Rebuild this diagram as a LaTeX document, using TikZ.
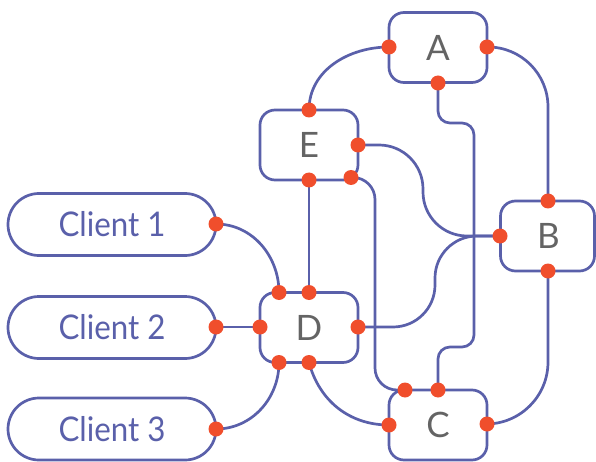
\documentclass[tikz,border=0pt]{standalone}
\usepackage{fontspec}
\setmainfont{Lato}
\definecolor{lineblue}{RGB}{90,96,170}
\definecolor{dotred}{RGB}{240,78,44}
\definecolor{lettergray}{RGB}{100,100,100}
\begin{document}
\begin{tikzpicture}[x=1pt,y=-1pt,
  box/.style={draw=lineblue,line width=2.7pt,rounded corners=15pt,minimum width=98pt,minimum height=70pt,inner sep=0pt,
    text=lettergray,font=\fontsize{35}{40}\selectfont},
  pill/.style={draw=lineblue,line width=2.7pt,rounded corners=31pt,minimum width=208pt,minimum height=62pt,inner sep=0pt,
    text=lineblue,font=\fontsize{34}{40}\selectfont},
  wire/.style={draw=lineblue,line width=2.7pt},
  dotnode/.style={circle,fill=dotred,inner sep=0pt,minimum size=15pt}]
\useasboundingbox (0,0) rectangle (596,462);
% boxes
\node[box] (A) at (438,47.5) {A};
\node[box] (E) at (309,145) {E};
\node[box,minimum width=94pt] (B) at (547.5,236) {\hspace*{2pt}B};
\node[box] (D) at (309,327.5) {D};
\node[box] (C) at (438,425) {C};
\node[pill] (c1) at (112,224.5) {\scalebox{0.92}[1]{Client 1}};
\node[pill] (c2) at (112,327.5) {\scalebox{0.92}[1]{Client 2}};
\node[pill] (c3) at (112,429) {\scalebox{0.92}[1]{Client 3}};
% ports
\coordinate (Aw) at (389,47);
\coordinate (Ae) at (487,47);
\coordinate (As) at (438,83);
\coordinate (En) at (309,110);
\coordinate (Ee) at (358,145);
\coordinate (Es) at (309,180);
\coordinate (Ese) at (351,177.5);
\coordinate (Bn) at (548,201);
\coordinate (Bw) at (500,236);
\coordinate (Bs) at (548,271);
\coordinate (Dnw) at (279,292.5);
\coordinate (Dn) at (309,292.5);
\coordinate (Dw) at (260,327);
\coordinate (De) at (358,327);
\coordinate (Dsw) at (279,362.5);
\coordinate (Ds) at (309,362.5);
\coordinate (Cnw) at (405,390);
\coordinate (Cn) at (438,390);
\coordinate (Cw) at (389,425);
\coordinate (Ce) at (487,424);
\coordinate (c1e) at (216,224);
\coordinate (c2e) at (216,327);
\coordinate (c3e) at (216,429);
% connectors
\draw[wire] (Aw) to[out=180,in=90] (En);
\draw[wire,rounded corners=60pt] (Ae) -| (Bn);
\draw[wire,rounded corners=12pt] (As) -- (438,123) -- (474,123) -- (474,347) -- (438,347) -- (Cn);
\draw[wire,rounded corners=44pt] (Ee) -- (423,145) -- (423,236) -- (Bw);
\draw[wire,rounded corners=42pt] (De) -- (435,327) -- (435,236) -- (Bw);
\draw[wire] (Es) -- (Dn);
\draw[wire,rounded corners=22pt] (Ese) -- (375,177.5) -- (375,390) -- (Cnw);
\draw[wire] (c1e) to[out=0,in=90] (Dnw);
\draw[wire] (c2e) -- (Dw);
\draw[wire] (c3e) to[out=0,in=-90] (Dsw);
\draw[wire] (Ds) to[out=-75,in=180] (Cw);
\draw[wire,rounded corners=62pt] (Bs) |- (Ce);
% dots
\foreach \p in {Aw,Ae,As,En,Ee,Es,Ese,Bn,Bw,Bs,Dnw,Dn,Dw,De,Dsw,Ds,Cnw,Cn,Cw,Ce,c1e,c2e,c3e}
  \node[dotnode] (dot\p) at (\p) {};
\end{tikzpicture}
\end{document}
